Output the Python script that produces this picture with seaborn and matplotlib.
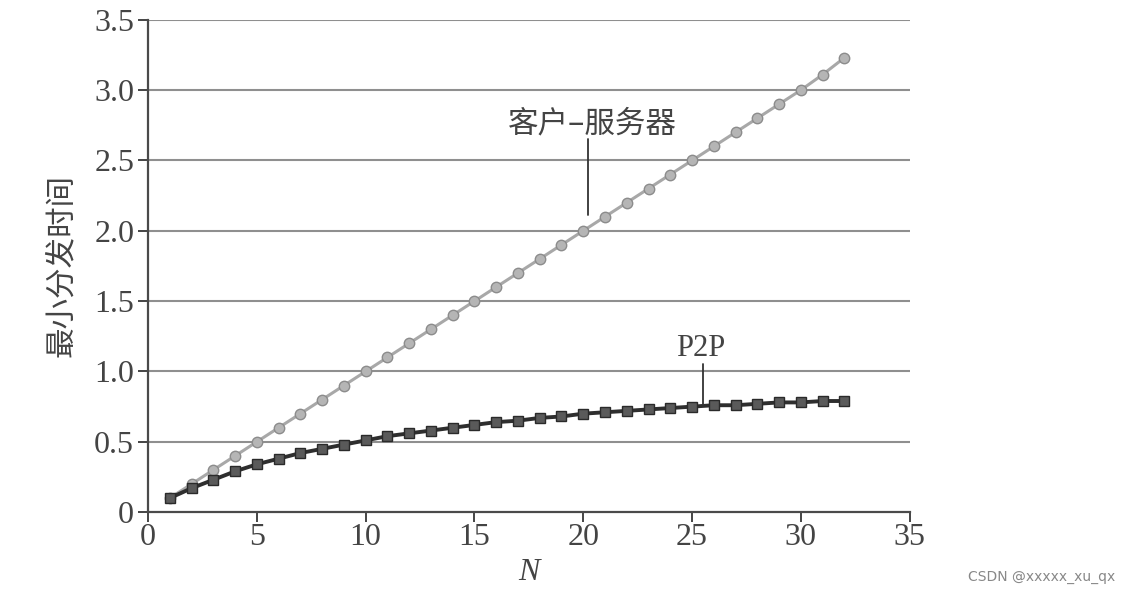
import matplotlib
matplotlib.use("Agg")
import matplotlib.pyplot as plt
import numpy as np
import pandas as pd
import seaborn as sns

# values
n_peers = list(range(1, 33))
client_server = [0.10, 0.20, 0.30, 0.40, 0.50, 0.60, 0.70, 0.80, 0.90, 1.00,
                 1.10, 1.20, 1.30, 1.40, 1.50, 1.60, 1.70, 1.80, 1.90, 2.00,
                 2.10, 2.20, 2.30, 2.40, 2.50, 2.60, 2.70, 2.80, 2.90, 3.00,
                 3.11, 3.23]
p2p = [0.10, 0.17, 0.23, 0.29, 0.34, 0.38, 0.42, 0.45, 0.48, 0.51,
       0.54, 0.56, 0.58, 0.60, 0.62, 0.64, 0.65, 0.67, 0.68, 0.70,
       0.71, 0.72, 0.73, 0.74, 0.75, 0.76, 0.76, 0.77, 0.78, 0.78,
       0.79, 0.79]

x_ticks = [0, 5, 10, 15, 20, 25, 30, 35]
y_ticks = [0, 0.5, 1.0, 1.5, 2.0, 2.5, 3.0, 3.5]
y_tick_labels = ["0", "0.5", "1.0", "1.5", "2.0", "2.5", "3.0", "3.5"]

df = pd.DataFrame({"N": n_peers, "cs": client_server, "p2p": p2p})

sns.set_theme(style="white")
plt.rcParams["font.family"] = ["Liberation Serif", "Noto Sans CJK SC"]
CJK = ["Noto Sans CJK SC", "DejaVu Sans"]

fig = plt.figure(figsize=(11.3, 5.99), dpi=100)
ax = fig.add_axes([0.131, 0.145, 0.674, 0.822])

for y in y_ticks[1:]:
    ax.axhline(y, color="#8f8f8f", linewidth=1.5, zorder=0)

sns.lineplot(data=df, x="N", y="cs", ax=ax, color="#a8a8a8", linewidth=2.2,
             marker="o", markersize=7.5, markerfacecolor="#b5b5b5",
             markeredgecolor="#8c8c8c", markeredgewidth=1.0, zorder=3)
sns.lineplot(data=df, x="N", y="p2p", ax=ax, color="#2e2e2e", linewidth=2.8,
             marker="s", markersize=6.5, markerfacecolor="#5a5a5a",
             markeredgecolor="#2a2a2a", markeredgewidth=1.0, zorder=4)

ax.set_xlim(0, 35)
ax.set_ylim(0, 3.5)
ax.set_xticks(x_ticks)
ax.set_yticks(y_ticks)
ax.set_yticklabels(y_tick_labels)
ax.tick_params(axis="both", labelsize=23, colors="#444444", length=7, width=1.4,
               direction="out", bottom=True, left=True)
ax.tick_params(axis="y", pad=3)
ax.tick_params(axis="x", pad=1)

for side in ["top", "right"]:
    ax.spines[side].set_visible(False)
for side in ["left", "bottom"]:
    ax.spines[side].set_color("#4a4a4a")
    ax.spines[side].set_linewidth(1.6)

ax.set_xlabel("N", fontsize=23, style="italic", color="#444444", labelpad=4)
ax.set_ylabel("最小分发时间", fontsize=22, family=CJK, color="#444444", labelpad=12)

# labels with leader lines
ax.text(20.4, 2.76, "客户–服务器", fontsize=22, family=CJK, color="#444444",
        ha="center", va="center")
ax.plot([20.2, 20.2], [2.65, 2.11], color="#333333", linewidth=1.3, zorder=5)
ax.text(25.4, 1.16, "P2P", fontsize=22, color="#444444", ha="center", va="center")
ax.plot([25.5, 25.5], [1.05, 0.76], color="#333333", linewidth=1.3, zorder=5)

fig.text(0.857, 0.03, "CSDN @xxxxx_xu_qx", fontsize=10, color="#888888",
         family=["DejaVu Sans"])

fig.savefig("out.png", dpi=100)
